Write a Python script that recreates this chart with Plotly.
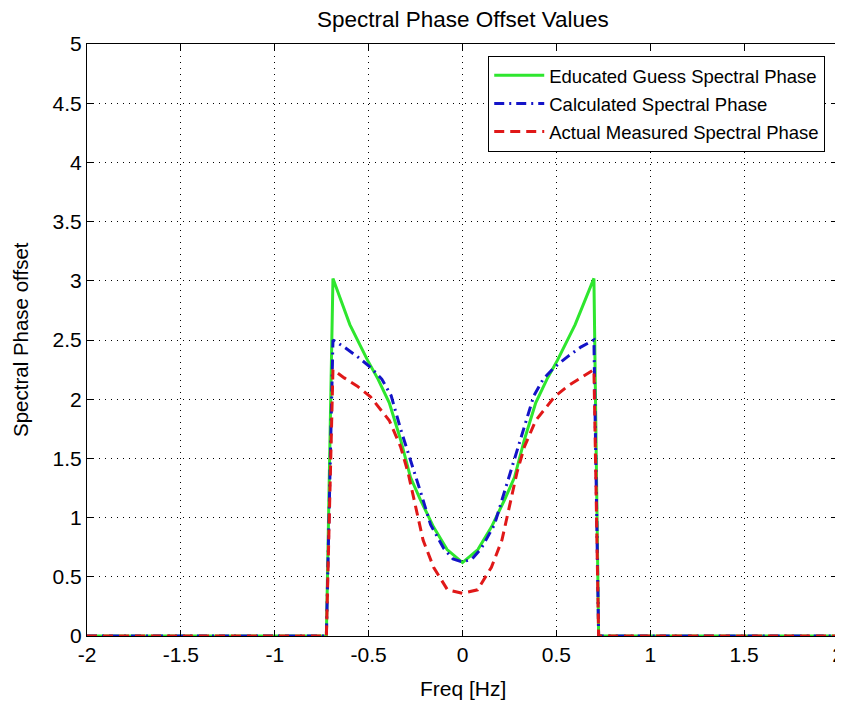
import plotly.graph_objects as go

# ---- data ----
freq_guess = [-2.0, -0.725, -0.69, -0.6, -0.506, -0.45, -0.39, -0.33, -0.277, -0.224, -0.154, -0.082, 0.0,
              0.082, 0.154, 0.224, 0.277, 0.33, 0.39, 0.45, 0.506, 0.6, 0.70, 0.725, 2.0]
phase_guess = [0.0, 0.0, 3.02, 2.63, 2.33, 2.17, 1.97, 1.66, 1.34, 1.15, 0.92, 0.73, 0.62,
               0.73, 0.92, 1.15, 1.34, 1.66, 1.97, 2.17, 2.33, 2.63, 3.02, 0.0, 0.0]

freq_calc = [-2.0, -0.725, -0.69, -0.63, -0.56, -0.49, -0.43, -0.38, -0.33, -0.277, -0.22, -0.17, -0.1, -0.05, 0.0,
             0.05, 0.1, 0.17, 0.22, 0.277, 0.33, 0.38, 0.43, 0.49, 0.56, 0.63, 0.70, 0.725, 2.0]
phase_calc = [0.0, 0.0, 2.50, 2.44, 2.36, 2.27, 2.17, 2.03, 1.75, 1.49, 1.2, 0.94, 0.74, 0.65, 0.625,
              0.65, 0.74, 0.94, 1.2, 1.49, 1.75, 2.03, 2.17, 2.27, 2.36, 2.44, 2.50, 0.0, 0.0]

freq_meas = [-2.0, -0.725, -0.69, -0.63, -0.56, -0.49, -0.39, -0.33, -0.29, -0.21, -0.154, -0.08, 0.0,
             0.08, 0.154, 0.21, 0.29, 0.33, 0.39, 0.49, 0.56, 0.63, 0.70, 0.725, 2.0]
phase_meas = [0.0, 0.0, 2.25, 2.18, 2.11, 2.02, 1.82, 1.6, 1.38, 0.81, 0.58, 0.39, 0.36,
              0.39, 0.58, 0.81, 1.38, 1.6, 1.82, 2.02, 2.11, 2.18, 2.25, 0.0, 0.0]

x_ticks = [-2, -1.5, -1, -0.5, 0, 0.5, 1, 1.5, 2]
x_tick_labels = ["-2", "-1.5", "-1", "-0.5", "0", "0.5", "1", "1.5", "2"]
y_ticks = [0, 0.5, 1, 1.5, 2, 2.5, 3, 3.5, 4, 4.5, 5]
y_tick_labels = ["0", "0.5", "1", "1.5", "2", "2.5", "3", "3.5", "4", "4.5", "5"]

FONT = "Liberation Sans, Arial, sans-serif"

fig = go.Figure()
fig.add_trace(go.Scatter(x=freq_guess, y=phase_guess, mode="lines",
                         name="Educated Guess Spectral Phase", legendgroup="g1",
                         line=dict(color="#2ee62e", width=3)))
fig.add_trace(go.Scatter(x=freq_calc, y=phase_calc, mode="lines",
                         name="Calculated Spectral Phase", legendgroup="g2",
                         line=dict(color="#1414c8", width=3, dash="10px,5px,2px,5px")))
fig.add_trace(go.Scatter(x=freq_meas, y=phase_meas, mode="lines",
                         name="Actual Measured Spectral Phase", legendgroup="g3",
                         line=dict(color="#e01818", width=3, dash="10px,6px")))

axis_common = dict(
    showline=True, linecolor="black", linewidth=1, mirror="ticks",
    ticks="inside", ticklen=6, tickcolor="black",
    showgrid=True, gridcolor="black", griddash="1px,5px", gridwidth=1,
    zeroline=False, automargin=False, ticklabeloverflow="allow",
    tickfont=dict(family=FONT, size=21, color="black"),
)

fig.update_xaxes(range=[-2, 2], tickvals=x_ticks, ticktext=x_tick_labels, **axis_common)
fig.update_yaxes(range=[0, 5], tickvals=y_ticks, ticktext=y_tick_labels, **axis_common)

fig.add_annotation(text="Freq [Hz]", xref="paper", yref="paper", x=0.5, y=0,
                   xanchor="center", yanchor="middle", yshift=-52, showarrow=False,
                   font=dict(family=FONT, size=21, color="black"))
fig.add_annotation(text="Spectral Phase offset", xref="paper", yref="paper", x=0, y=0.5,
                   xanchor="center", yanchor="middle", xshift=-67, textangle=-90, showarrow=False,
                   font=dict(family=FONT, size=20.5, color="black"))
fig.add_annotation(text="Spectral Phase Offset Values", xref="paper", yref="paper", x=0.5, y=1,
                   xanchor="center", yanchor="middle", yshift=25, showarrow=False,
                   font=dict(family=FONT, size=22.5, color="black"))

# the page body has an 8px margin; size the figure so the plot area lands where the reference has it
fig.update_layout(
    width=835, height=694,
    margin=dict(l=79, r=5, t=36, b=66),
    paper_bgcolor="white", plot_bgcolor="white",
    legend=dict(x=0.983, y=0.98, xanchor="right", yanchor="top",
                bgcolor="white", bordercolor="black", borderwidth=1,
                font=dict(family=FONT, size=18.5, color="black"),
                traceorder="grouped", tracegroupgap=1, itemwidth=50),
    showlegend=True,
)

fig.write_html("out.html")
